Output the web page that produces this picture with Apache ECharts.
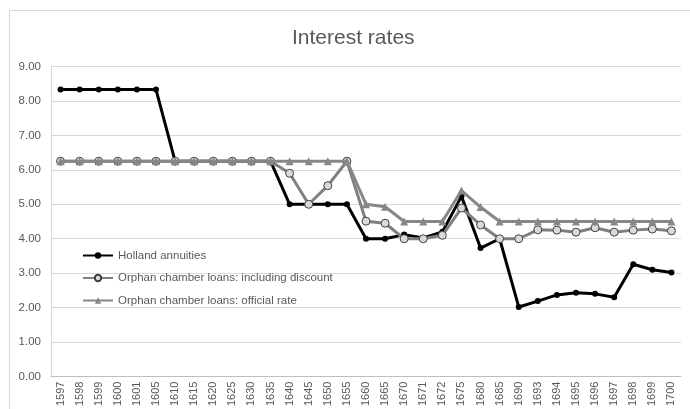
<!DOCTYPE html>
<html>
<head>
<meta charset="utf-8">
<script src="https://cdn.jsdelivr.net/npm/echarts@6/dist/echarts.min.js"></script>
<style>html,body{margin:0;padding:0;background:#fff}#c{width:690px;height:409px}</style>
</head>
<body>
<div id="c"></div>
<script>
var categories = ['1597','1598','1599','1600','1601','1605','1610','1615','1620','1625','1630','1635','1640','1645','1650','1655','1660','1665','1670','1671','1672','1675','1680','1685','1690','1693','1694','1695','1696','1697','1698','1699','1700'];
var hollandAnnuities = [8.33,8.33,8.33,8.33,8.33,8.33,6.25,6.25,6.25,6.25,6.25,6.25,5.00,5.00,5.00,5.00,4.00,4.00,4.12,4.02,4.20,5.23,3.73,4.00,2.02,2.19,2.37,2.43,2.40,2.30,3.26,3.10,3.02];
var orphanDiscount = [6.25,6.25,6.25,6.25,6.25,6.25,6.25,6.25,6.25,6.25,6.25,6.25,5.90,5.00,5.54,6.25,4.51,4.45,4.00,4.00,4.10,4.89,4.40,4.00,4.00,4.26,4.25,4.19,4.32,4.19,4.25,4.28,4.23];
var orphanOfficial = [6.25,6.25,6.25,6.25,6.25,6.25,6.25,6.25,6.25,6.25,6.25,6.25,6.25,6.25,6.25,6.25,5.00,4.93,4.50,4.50,4.50,5.40,4.92,4.50,4.50,4.50,4.50,4.50,4.50,4.50,4.50,4.50,4.50];
var seriesNames = ['Holland annuities','Orphan chamber loans: including discount','Orphan chamber loans: official rate'];

var chart = echarts.init(document.getElementById('c'), null, {renderer:'canvas'});
var font = 'Liberation Sans, Arial, sans-serif';
chart.setOption({
  animation: false,
  backgroundColor: '#fff',
  title: {
    text: 'Interest rates',
    left: 287, top: 23,
    textStyle: {color:'#595959', fontSize:21, fontWeight:'normal', fontFamily:font}
  },
  graphic: [{
    type:'rect', shape:{x:9.5,y:10.5,width:700,height:420},
    style:{fill:'none', stroke:'#d9d9d9', lineWidth:1}, silent:true
  }],
  legend: {
    orient:'vertical', left:77, top:244,
    itemWidth:30, itemHeight:8, itemGap:9.5,
    textStyle:{color:'#595959', fontSize:11.5, fontFamily:font, lineHeight:13},
    data: seriesNames
  },
  grid: {left:51, right:9, top:66.5, bottom:32, containLabel:false},
  xAxis: {
    type:'category', data:categories, boundaryGap:true,
    axisLine:{lineStyle:{color:'#bfbfbf', width:1}},
    axisTick:{show:false},
    axisLabel:{rotate:90, interval:0, color:'#595959', fontSize:11, fontFamily:font, margin:5}
  },
  yAxis: {
    type:'value', min:0, max:9, interval:1,
    axisLine:{show:true, lineStyle:{color:'#d9d9d9'}},
    axisTick:{show:false},
    splitLine:{lineStyle:{color:'#d9d9d9', width:1}},
    axisLabel:{color:'#595959', fontSize:11.5, fontFamily:font, margin:10, formatter:function(v){return v.toFixed(2);}}
  },
  series: [
    {name:seriesNames[0], type:'line', data:hollandAnnuities, symbol:'circle', symbolSize:6,
     lineStyle:{color:'#000', width:3}, itemStyle:{color:'#000', borderColor:'#000', borderWidth:0}, z:2},
    {name:seriesNames[1], type:'line', data:orphanDiscount, symbol:'circle', symbolSize:8,
     lineStyle:{color:'#808080', width:3}, itemStyle:{color:'#d9d9d9', borderColor:'#404040', borderWidth:1}, z:3},
    {name:seriesNames[2], type:'line', data:orphanOfficial, symbol:'triangle', symbolSize:8,
     lineStyle:{color:'#878787', width:3}, itemStyle:{color:'#878787', borderColor:'#878787', borderWidth:0}, z:4}
  ]
});
</script>
</body>
</html>
